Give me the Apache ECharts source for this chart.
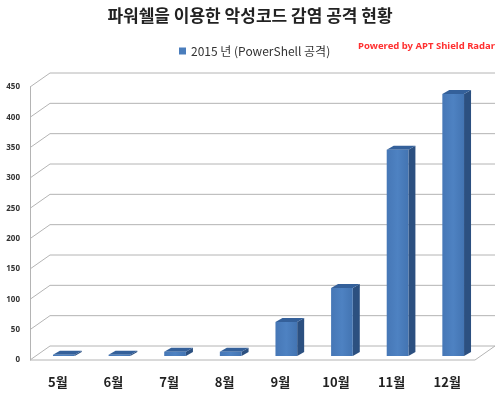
<!DOCTYPE html>
<html><head><meta charset="utf-8">
<script src="https://cdn.jsdelivr.net/npm/echarts@6/dist/echarts.min.js"></script>
<style>html,body{margin:0;padding:0;background:#fff}#c{width:500px;height:393px}</style>
</head><body><div id="c"></div>
<script>
var months = ['5월','6월','7월','8월','9월','10월','11월','12월'];
var attacks = [2, 2, 7, 7, 56, 112, 340, 432];
var yTicks = [0, 50, 100, 150, 200, 250, 300, 350, 400, 450];
var seriesName = '2015 년 (PowerShell 공격)';
var titleText = '파워쉘을 이용한 악성코드 감염 공격 현황';
var creditText = 'Powered by APT Shield Radar';

var WALL_DX = 20, WALL_DY = -14;   // back wall offset
var BAR_DX = 6, BAR_DY = -4;       // bar front face offset from front plane
var DEP_DX = 7, DEP_DY = -4;       // bar depth
var GRID_COLOR = '#b4b4b4';

var chart = echarts.init(document.getElementById('c'));
chart.setOption({
  animation: false,
  title: [
    {text: titleText, left: 'center', top: 2,
     textStyle: {fontSize: 17, fontWeight: 'bold', color: '#222', fontFamily: 'Noto Sans CJK KR'}},
    {text: creditText, right: 0, top: 36,
     textStyle: {fontSize: 9.5, fontWeight: 'bold', color: '#ff3030', fontFamily: 'Noto Sans'}}
  ],
  legend: {
    data: [seriesName], top: 40, left: 174, icon: 'rect', itemWidth: 7, itemHeight: 7, itemGap: 4,
    textStyle: {fontSize: 12, color: '#333', fontFamily: 'Noto Sans CJK KR'}
  },
  grid: {left: 30, right: 25, top: 87, bottom: 33},
  xAxis: {
    type: 'category', data: months,
    axisLine: {show: false}, axisTick: {show: false},
    axisLabel: {fontSize: 13, fontWeight: 'bold', color: '#222', margin: 16, fontFamily: 'Noto Sans CJK KR'}
  },
  yAxis: {
    type: 'value', min: 0, max: 450, interval: 50,
    axisLine: {show: true, lineStyle: {color: GRID_COLOR}},
    axisTick: {show: false}, splitLine: {show: false},
    axisLabel: {fontSize: 8, fontWeight: 'bold', color: '#333', margin: 10, fontFamily: 'Noto Sans'}
  },
  series: [
    {
      type: 'custom', name: 'wall', silent: true, clip: false, z: 1,
      data: yTicks.map(function (v) { return [0, v]; }),
      renderItem: function (params, api) {
        var cs = params.coordSys;
        var y = api.coord([0, api.value(1)])[1];
        var xl = cs.x, xr = cs.x + cs.width;
        var pts = [[xl, y], [xl + WALL_DX, y + WALL_DY], [xr + WALL_DX, y + WALL_DY]];
        if (api.value(1) === 0) {
          pts.push([xr, y]);
          pts.push([xl, y]);
        }
        return {type: 'polyline', shape: {points: pts},
          style: {stroke: GRID_COLOR, lineWidth: 1, fill: null}};
      }
    },
    {
      type: 'custom', name: seriesName, clip: false, z: 2,
      itemStyle: {color: '#4a7dbc'},
      data: attacks.map(function (v, i) { return [i, v]; }),
      renderItem: function (params, api) {
        var i = api.value(0), v = api.value(1);
        var top = api.coord([i, v]);
        var base = api.coord([i, 0]);
        var band = api.size([1, 0])[0];
        var w = band * 0.39;
        var x0 = top[0] + BAR_DX - w / 2, x1 = x0 + w;
        var yt = top[1] + BAR_DY, yb = base[1] + BAR_DY;
        return {type: 'group', children: [
          {type: 'polygon', shape: {points: [[x1, yb], [x1, yt], [x1 + DEP_DX, yt + DEP_DY], [x1 + DEP_DX, yb + DEP_DY]]},
           style: {fill: '#2c5080'}},
          {type: 'polygon', shape: {points: [[x0, yt], [x1, yt], [x1 + DEP_DX, yt + DEP_DY], [x0 + DEP_DX, yt + DEP_DY]]},
           style: {fill: '#34609a'}},
          {type: 'rect', shape: {x: x0, y: yt, width: w, height: yb - yt},
           style: {fill: new echarts.graphic.LinearGradient(0, 0, 1, 0, [
             {offset: 0, color: '#4677b6'}, {offset: 0.5, color: '#4e82c2'}, {offset: 1, color: '#4374b2'}])}}
        ]};
      }
    }
  ]
});
</script></body></html>
